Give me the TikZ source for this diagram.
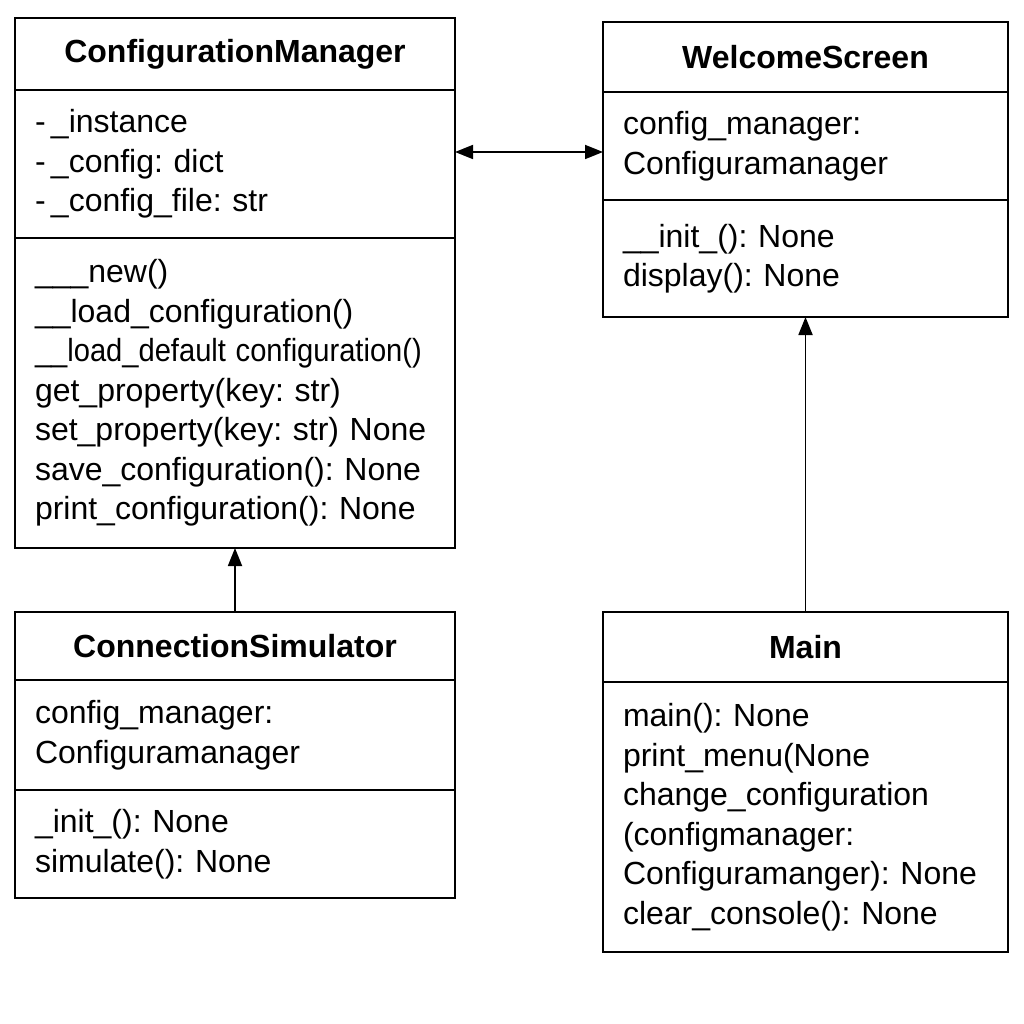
\documentclass[tikz,border=0pt]{standalone}
\usepackage{fontspec}
\setmainfont{Liberation Sans}
\usetikzlibrary{positioning,arrows.meta}
\frenchspacing
\begin{document}
\begin{tikzpicture}[
        x=1pt, y=-1pt,
        every node/.style={draw, line width=1.8pt, outer sep=0pt, inner xsep=20pt, inner ysep=0pt,
            anchor=north, font=\fontsize{32}{39.5}\selectfont},
        title/.style={font=\fontsize{32}{39.5}\selectfont\bfseries, align=center},
        sect/.style={align=left},
        ar/.style={-{Triangle[length=18pt,width=14pt]}, line width=1.8pt},
        node distance = 0pt,
    ]
    \useasboundingbox (0,0) rectangle (1024,1024);

    % ConfigurationManager
    \node[title, text width=400pt, minimum height=72pt](cmT) at (235,18) {ConfigurationManager};
    \node[sect, text width=400pt, minimum height=148pt, below=of cmT](cmA)
        {-\,\_instance\\-\,\_config: dict\\-\,\_config\_file: str};
    \node[sect, text width=400pt, minimum height=310pt, below=of cmA](cmM)
        {\_\_\_new()\\\_\_load\_configuration()\\
         \scalebox{0.91}[1]{\_\_load\_default configuration()}\\
         get\_property(key: str)\\set\_property(key: str) None\\
         save\_configuration(): None\\print\_configuration(): None};

    % WelcomeScreen
    \node[title, text width=365pt, minimum height=70pt](wsT) at (805.5,22) {WelcomeScreen};
    \node[sect, text width=365pt, minimum height=108pt, below=of wsT](wsA)
        {config\_manager:\\Configuramanager};
    \node[sect, text width=365pt, minimum height=117pt, below=of wsA](wsM)
        {\_\_init\_(): None\\display(): None};

    % ConnectionSimulator
    \node[title, text width=400pt, minimum height=68pt](csT) at (235,612) {ConnectionSimulator};
    \node[sect, text width=400pt, minimum height=110pt, below=of csT](csA)
        {config\_manager:\\Configuramanager};
    \node[sect, text width=400pt, minimum height=108pt, below=of csA](csM)
        {\_init\_(): None\\simulate(): None};

    % Main
    \node[title, text width=365pt, minimum height=70pt](mainT) at (805.5,612) {Main};
    \node[sect, text width=365pt, minimum height=270pt, below=of mainT](mainM)
        {main(): None\\print\_menu(None\\change\_configuration\\(configmanager:\\
         Configuramanger): None\\clear\_console(): None};

    \draw[ar, {Triangle[length=18pt,width=14pt]}-{Triangle[length=18pt,width=14pt]}]
        ([yshift=12pt]cmA.east) -- ([yshift=12pt]cmA.east -| wsA.west);
    \draw[ar] (csT.north) -- (cmM.south);
    \draw[ar] (mainT.north) -- (wsM.south);
\end{tikzpicture}
\end{document}
